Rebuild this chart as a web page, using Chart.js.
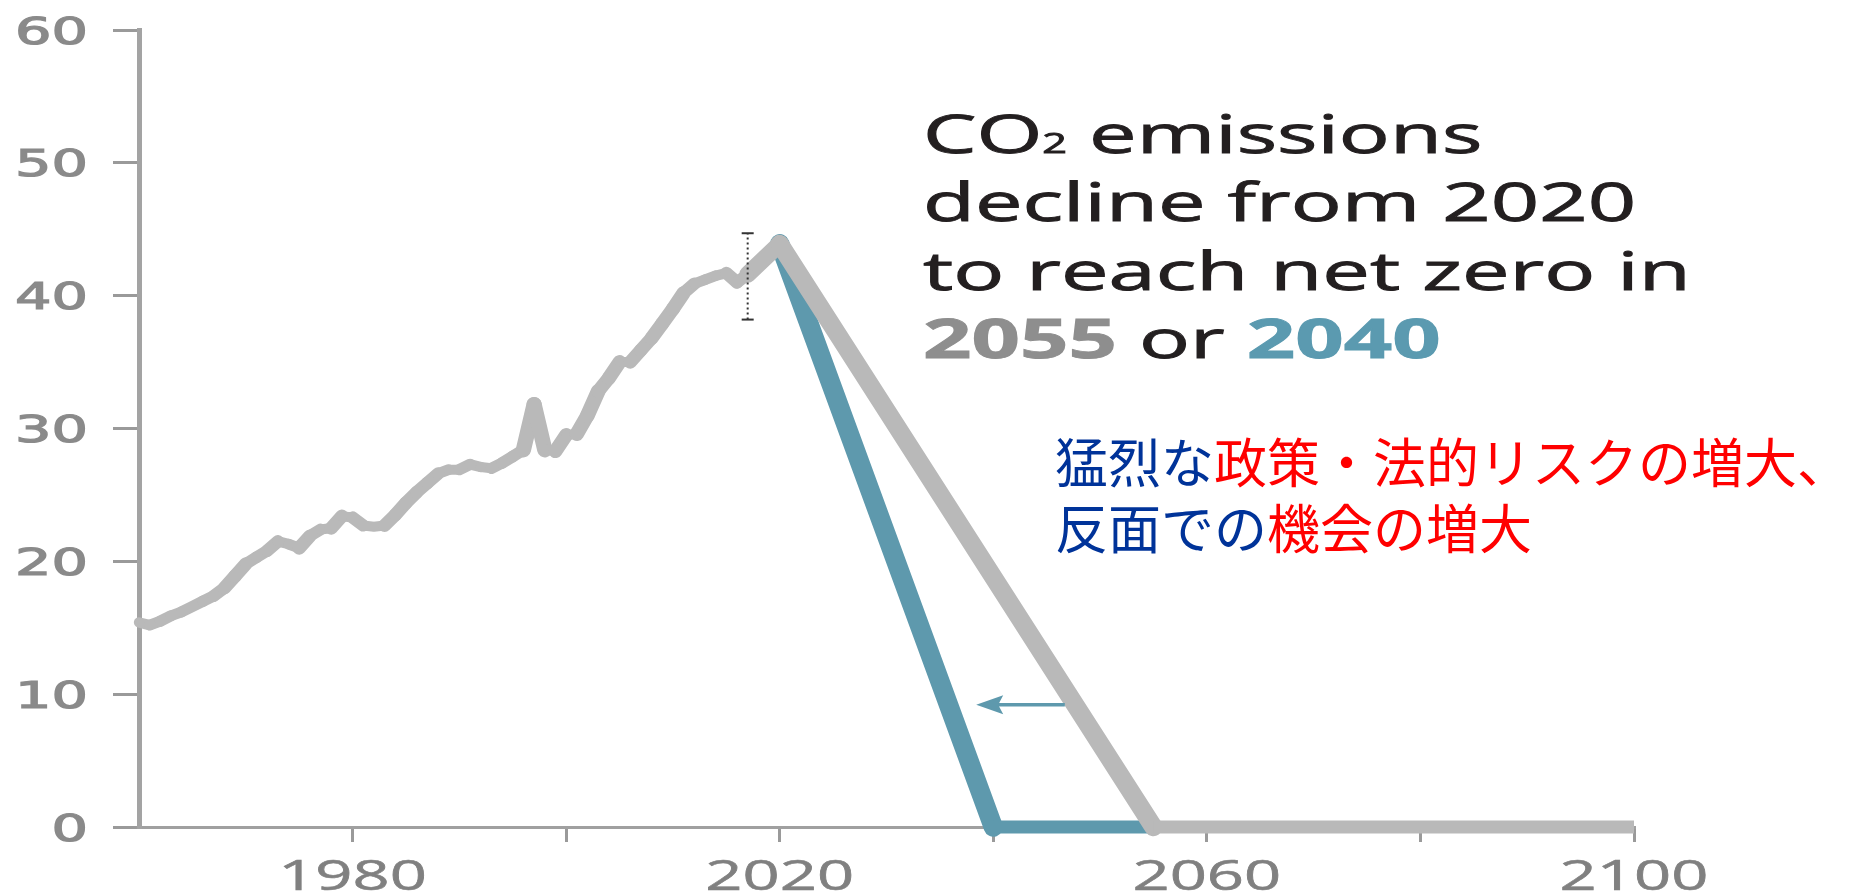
<!DOCTYPE html>
<html lang="ja">
<head>
<meta charset="utf-8">
<title>CO2 emissions pathways</title>
<script src="https://cdn.jsdelivr.net/npm/chart.js@4.4.1/dist/chart.umd.min.js"></script>
<style>
  html, body { margin: 0; padding: 0; background: #fff; }
  #wrap { position: relative; width: 1860px; height: 894px; }
</style>
</head>
<body>
<div id="wrap"><canvas id="co2-chart"></canvas></div>
<script>
// ========================================
// DATA (GtCO2 / yr)
// ========================================
const histYears = [
  1960, 1961, 1962, 1963, 1964, 1965, 1966, 1967, 1968, 1969,
  1970, 1971, 1972, 1973, 1974, 1975, 1976, 1977, 1978, 1979,
  1980, 1981, 1982, 1983, 1984, 1985, 1986, 1987, 1988, 1989,
  1990, 1991, 1992, 1993, 1994, 1995, 1996, 1997, 1998, 1999,
  2000, 2001, 2002, 2003, 2004, 2005, 2006, 2007, 2008, 2009,
  2010, 2011, 2012, 2013, 2014, 2015, 2016, 2017
];
const histValues = [
  15.4, 15.2, 15.5, 15.9, 16.2, 16.6, 17.0, 17.4, 18.0, 18.9,
  19.8, 20.3, 20.8, 21.5, 21.3, 21.0, 21.9, 22.4, 22.5, 23.4,
  23.3, 22.7, 22.6, 22.7, 23.5, 24.4, 25.2, 25.9, 26.6, 26.9,
  26.9, 27.3, 27.1, 27.0, 27.4, 27.9, 28.4, 31.8, 28.4, 28.3,
  29.5, 29.6, 31.0, 32.8, 33.8, 35.0, 35.0, 35.9, 36.8, 37.9,
  39.0, 40.2, 40.9, 41.2, 41.5, 41.7, 41.0, 41.6
];

// net zero in 2055 (grey) and 2040 (blue)
const path2055Years = [2017, 2020, 2055, 2100];
const path2055Values = [41.6, 43.9, 0, 0];
const path2040Years = [2020, 2040, 2055];
const path2040Values = [43.9, 0, 0];

// uncertainty bar on 2017
const errorYear = 2017;
const errorRange = [38.2, 44.7];

// arrow from the 2055 path to the 2040 path
const arrowYears = [2046.7, 2038.4];
const arrowValue = 9.2;

const xLabelTicks = [1980, 2020, 2060, 2100];
const yLabelTicks = [0, 10, 20, 30, 40, 50, 60];

const jpLine1 = [['猛烈な', 'blue'], ['政策・法的リスクの増大、', 'red']];
const jpLine2 = [['反面での', 'blue'], ['機会の増大', 'red']];

// ========================================
// STYLE
// ========================================
const GREY = '#b9b9b9';
const TEAL = '#5e99ad';
const JP_COLORS = { blue: '#003399', red: '#ff0000' };
// the source figure was stretched sideways, so steep strokes look thicker
const STRETCH = 1.55;

function toPoints(xs, ys) {
  return xs.map(function(x, i) { return { x: x, y: ys[i] }; });
}

// width of a segment after a horizontal stretch of a w0 wide stroke
function stretchedWidth(w0) {
  return function(c) {
    const dx = c.p1.x - c.p0.x;
    const dy = c.p1.y - c.p0.y;
    const len = Math.sqrt(dx * dx + dy * dy) || 1;
    return w0 * Math.sqrt(dx * dx + STRETCH * STRETCH * dy * dy) / len;
  };
}

// flat runs end square, sloped ones round so the joins stay closed
function capFor(c) {
  return Math.abs(c.p1.y - c.p0.y) < 0.5 ? 'butt' : 'round';
}

// draw text stretched horizontally like the source picture
function stretchText(ctx, text, x, y, sx, align, stroke) {
  ctx.save();
  ctx.translate(x, y);
  ctx.scale(sx, 1);
  ctx.textAlign = align || 'left';
  ctx.fillText(text, 0, 0);
  if (stroke) {
    ctx.lineWidth = stroke;
    ctx.strokeStyle = ctx.fillStyle;
    ctx.strokeText(text, 0, 0);
  }
  ctx.restore();
}

// draw runs of [text, font, color] one after another
function drawRuns(ctx, runs, x, y, sx, stroke) {
  let cx = x;
  runs.forEach(function(r) {
    ctx.font = r[1];
    ctx.fillStyle = r[2];
    stretchText(ctx, r[0], cx, y, sx, 'left', stroke);
    cx += ctx.measureText(r[0]).width * sx;
  });
  return cx;
}

const annotationPlugin = {
  id: 'annotations',
  afterDatasetsDraw: function(chart) {
    const ctx = chart.ctx;
    const xs = chart.scales.x;
    const ys = chart.scales.y;

    // arrow
    const x1 = xs.getPixelForValue(arrowYears[0]);
    const x2 = xs.getPixelForValue(arrowYears[1]);
    const y = ys.getPixelForValue(arrowValue);
    ctx.save();
    ctx.strokeStyle = TEAL;
    ctx.fillStyle = TEAL;
    ctx.lineWidth = 3.5;
    ctx.beginPath();
    ctx.moveTo(x1, y);
    ctx.lineTo(x2 + 20, y);
    ctx.stroke();
    ctx.beginPath();
    ctx.moveTo(x2, y);
    ctx.lineTo(x2 + 27, y - 9.5);
    ctx.lineTo(x2 + 22, y);
    ctx.lineTo(x2 + 27, y + 9.5);
    ctx.closePath();
    ctx.fill();
    ctx.restore();
  },
  afterDraw: function(chart) {
    const ctx = chart.ctx;
    const xs = chart.scales.x;
    const ys = chart.scales.y;
    ctx.save();
    ctx.textBaseline = 'alphabetic';

    // y tick labels
    ctx.font = '37px "DejaVu Sans"';
    ctx.fillStyle = '#8a8a8a';
    yLabelTicks.forEach(function(v) {
      stretchText(ctx, String(v), 88, ys.getPixelForValue(v) + 13.5, STRETCH, 'right', 1.2);
    });

    // x tick labels
    ctx.font = '42px "Open Sans"';
    ctx.fillStyle = '#808080';
    xLabelTicks.forEach(function(v) {
      stretchText(ctx, String(v), xs.getPixelForValue(v), 890, STRETCH, 'center', 0.6);
    });

    // english note
    const SX = 1.6;
    const reg = '53px "Open Sans"';
    const bold = 'bold 53px "Open Sans"';
    const dark = '#231f20';
    drawRuns(ctx, [['CO', reg, dark], ['2', '27px "Open Sans"', dark], [' emissions', reg, dark]], 923, 153, SX, 0.9);
    drawRuns(ctx, [['decline from 2020', reg, dark]], 923, 221, SX, 0.9);
    drawRuns(ctx, [['to reach net zero in', reg, dark]], 923, 290, SX, 0.9);
    drawRuns(ctx, [['2055', bold, '#8e8e8e'], [' or ', reg, dark], ['2040', bold, '#5b9ab0']], 923, 358, SX, 0.9);

    // japanese note (added later, not stretched)
    const jp = '53px "Noto Sans CJK JP"';
    drawRuns(ctx, jpLine1.map(function(s) { return [s[0], jp, JP_COLORS[s[1]]]; }), 1055, 483, 1);
    drawRuns(ctx, jpLine2.map(function(s) { return [s[0], jp, JP_COLORS[s[1]]]; }), 1055, 549, 1);

    ctx.restore();
  }
};

const canvas = document.getElementById('co2-chart');
new Chart(canvas.getContext('2d'), {
  type: 'line',
  data: {
    datasets: [
      {
        label: 'uncertainty',
        data: toPoints([errorYear, errorYear], errorRange),
        borderColor: '#333',
        borderWidth: 2,
        borderDash: [2, 3],
        pointStyle: 'line',
        pointRadius: 6,
        pointBorderWidth: 2,
        pointBorderColor: '#333',
        order: 0
      },
      {
        label: 'historical',
        data: toPoints(histYears, histValues),
        borderColor: GREY,
        borderWidth: 10,
        borderCapStyle: 'round',
        borderJoinStyle: 'round',
        segment: { borderWidth: stretchedWidth(10) },
        pointRadius: 0,
        order: 1
      },
      {
        label: 'net zero 2055',
        data: toPoints(path2055Years, path2055Values),
        borderColor: GREY,
        borderWidth: 13,
        borderJoinStyle: 'miter',
        segment: { borderWidth: stretchedWidth(13), borderCapStyle: capFor },
        pointRadius: 0,
        order: 2
      },
      {
        label: 'net zero 2040',
        data: toPoints(path2040Years, path2040Values),
        borderColor: TEAL,
        borderWidth: 13,
        borderJoinStyle: 'miter',
        segment: { borderWidth: stretchedWidth(13), borderCapStyle: capFor },
        pointRadius: 0,
        order: 3
      }
    ]
  },
  options: {
    responsive: true,
    maintainAspectRatio: false,
    animation: false,
    clip: false,
    layout: { padding: { left: 0, right: 226, top: 30, bottom: 0 } },
    plugins: {
      legend: { display: false },
      tooltip: { enabled: false }
    },
    scales: {
      x: {
        type: 'linear',
        min: 1960,
        max: 2100,
        ticks: { stepSize: 20, display: false },
        grid: {
          drawOnChartArea: false,
          drawTicks: true,
          tickLength: 15,
          lineWidth: 3,
          color: function(c) { return c.tick && c.tick.value === 1960 ? 'rgba(0,0,0,0)' : '#9a9a9a'; }
        },
        border: { display: true, color: '#a0a0a0', width: 3 },
        afterFit: function(scale) { scale.height = 67; }
      },
      y: {
        min: 0,
        max: 60,
        ticks: { stepSize: 10, display: false },
        grid: {
          drawOnChartArea: false,
          drawTicks: true,
          tickLength: 26,
          lineWidth: 3,
          color: '#9a9a9a'
        },
        border: { display: true, color: '#a3a3a3', width: 5 },
        afterFit: function(scale) { scale.width = 139; }
      }
    }
  },
  plugins: [annotationPlugin]
});
</script>
</body>
</html>
